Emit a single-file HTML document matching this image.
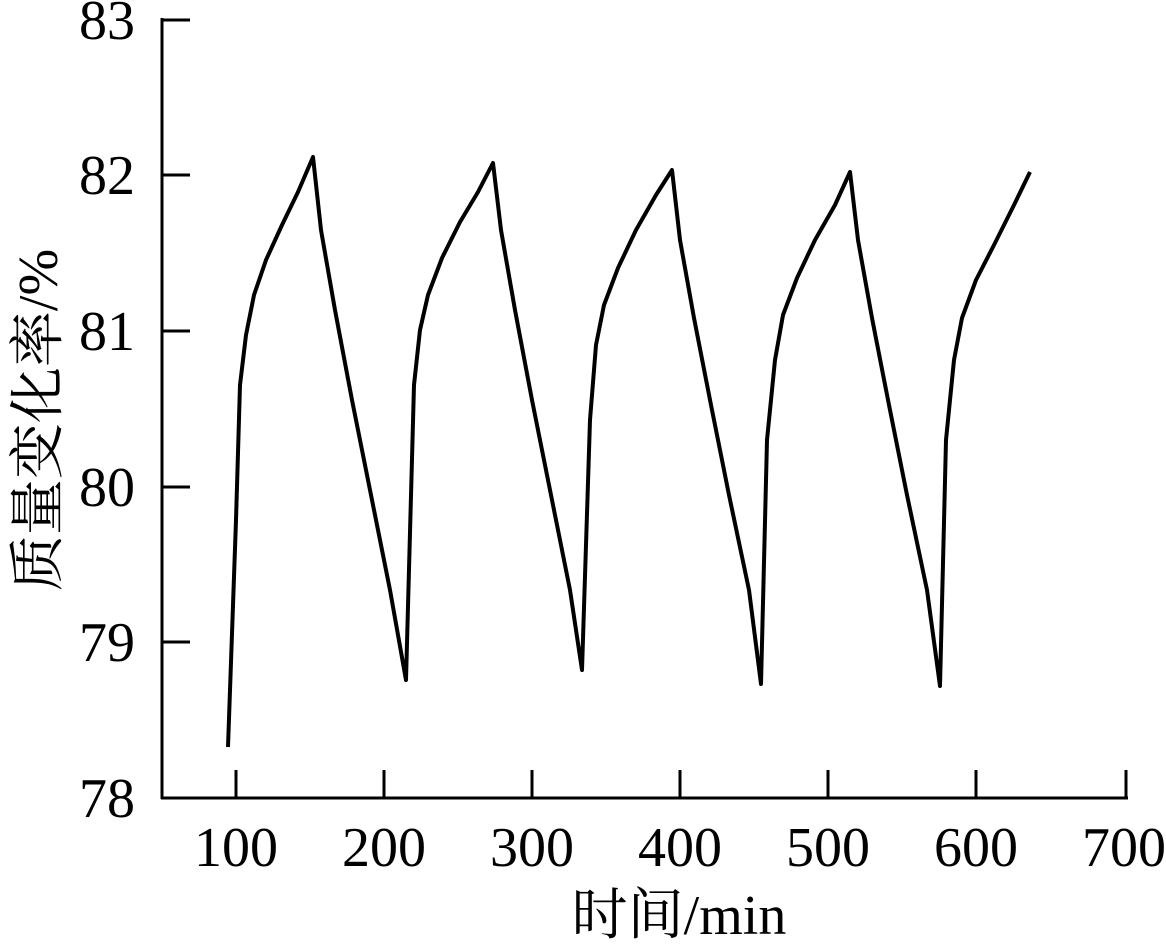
<!DOCTYPE html>
<html><head><meta charset="utf-8"><style>
body{margin:0;background:#fff}
svg text{font-family:"Liberation Serif","Noto Serif CJK SC",serif;fill:#000}
</style></head><body>
<svg width="1166" height="943" viewBox="0 0 1166 943" xmlns="http://www.w3.org/2000/svg">
<g stroke="#000" stroke-width="3" fill="none">
<line x1="162" y1="18" x2="162" y2="799"/>
<line x1="161" y1="798" x2="1128" y2="798"/>
<line x1="162" y1="20" x2="190" y2="20"/>
<line x1="162" y1="175" x2="190" y2="175"/>
<line x1="162" y1="331" x2="190" y2="331"/>
<line x1="162" y1="487" x2="190" y2="487"/>
<line x1="162" y1="642" x2="190" y2="642"/>
<line x1="236" y1="798" x2="236" y2="770"/>
<line x1="384" y1="798" x2="384" y2="770"/>
<line x1="532" y1="798" x2="532" y2="770"/>
<line x1="680" y1="798" x2="680" y2="770"/>
<line x1="828" y1="798" x2="828" y2="770"/>
<line x1="976" y1="798" x2="976" y2="770"/>
<line x1="1126" y1="798" x2="1126" y2="770"/>
<polyline stroke-width="4" stroke-linejoin="round" points="228,747 236,520 240,385 246,335 254,295 266,260 282,225 298,192 313,157 321,230 335,310 352,400 370,490 390,590 406,680 414,385 420,330 428,295 442,258 460,222 478,192 493,163 501,230 515,310 532,400 550,490 570,590 582,670 590,420 596,345 604,305 618,268 636,230 656,195 672,170 680,240 694,318 711,405 729,495 749,590 761,684 767,440 775,360 783,315 797,278 815,240 835,205 850,172 858,240 872,318 889,405 907,495 927,590 940,686 946,440 954,360 962,318 976,280 994,245 1014,205 1030,172"/>
</g>
<g font-size="56" text-anchor="end">
<text x="135" y="39">83</text>
<text x="135" y="194">82</text>
<text x="135" y="350">81</text>
<text x="135" y="506">80</text>
<text x="135" y="661">79</text>
<text x="135" y="817">78</text>
</g>
<g font-size="56" text-anchor="middle">
<text x="236" y="866">100</text>
<text x="384" y="866">200</text>
<text x="532" y="866">300</text>
<text x="680" y="866">400</text>
<text x="828" y="866">500</text>
<text x="976" y="866">600</text>
<text x="1124" y="866">700</text>
<text x="679" y="934">时间/min</text>
<text transform="translate(57,420) rotate(-90)">质量变化率/%</text>
</g>
</svg>
</body></html>
